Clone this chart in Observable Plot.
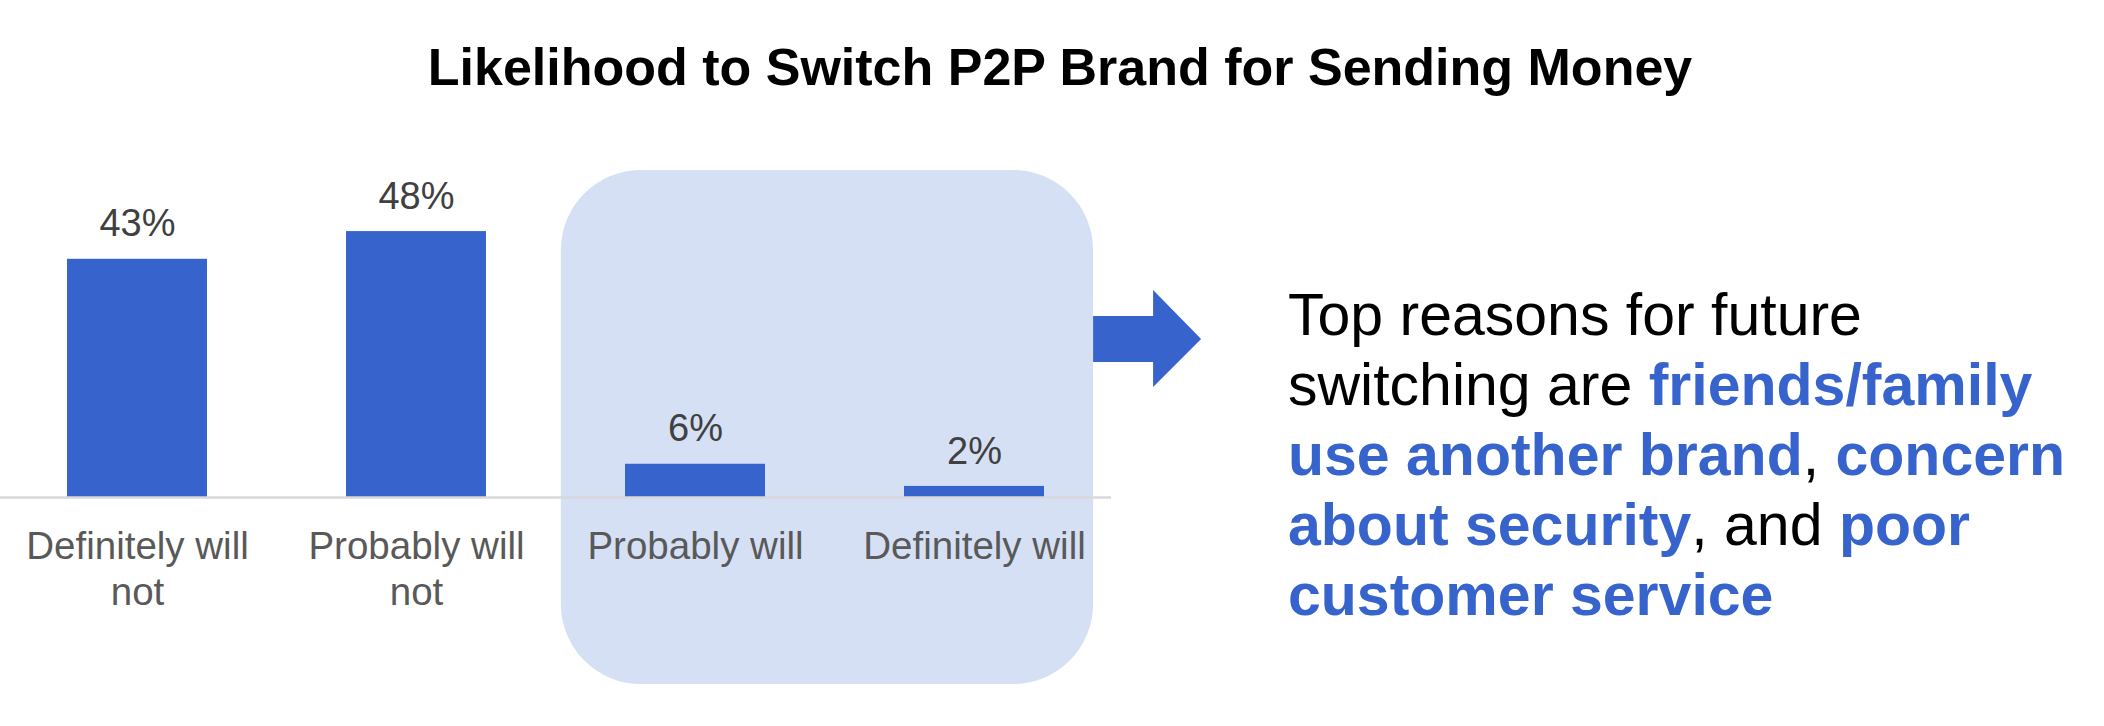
<!DOCTYPE html>
<html>
<head>
<meta charset="utf-8">
<script src="https://cdn.jsdelivr.net/npm/d3@7"></script>
<script src="https://cdn.jsdelivr.net/npm/@observablehq/plot@0.6"></script>
<style>
  html, body { margin: 0; padding: 0; background: #fff; }
  #root { position: relative; width: 2104px; height: 726px; overflow: hidden; font-family: Arial, "Liberation Sans", sans-serif; }
  #title { position: absolute; left: 16px; top: 41px; width: 2088px; text-align: center; font-weight: bold; font-size: 52px; line-height: 52px; color: #000; white-space: nowrap; }
  #chart { position: absolute; left: 0; top: 120px; }
  #note { position: absolute; left: 1288px; top: 280px; font-size: 59px; line-height: 70px; color: #000; white-space: nowrap; }
  #note b { color: #3763cc; }
</style>
</head>
<body>
<div id="root">
  <div id="title">Likelihood to Switch P2P Brand for Sending Money</div>
  <div id="chart"></div>
  <div id="note">Top reasons for future<br>switching are <b>friends/family</b><br><b>use another brand</b>, <b>concern</b><br><b>about security</b>, and <b>poor</b><br><b>customer service</b></div>
</div>
<script>
const categories = ["Definitely will not", "Probably will not", "Probably will", "Definitely will"];
const tickLabels = ["Definitely will\nnot", "Probably will\nnot", "Probably will", "Definitely will"];
const values = [43, 48, 6, 2];
const highlighted = ["Probably will", "Definitely will"];

const data = categories.map((c, i) => ({category: c, value: values[i], label: values[i] + "%"}));

const BAR = "#3763cc";
const BOX = "#d6e0f5";

function highlightBox(index, scales, vals, dims) {
  const x = scales.x;
  const bw = typeof x.bandwidth === "function" ? x.bandwidth() : 0;
  const step = typeof x.step === "function" ? x.step() : bw * 2;
  const left = x(highlighted[0]) - 0.23 * step;
  const right = x(highlighted[1]) + bw + 0.176 * step;
  const ns = "http://www.w3.org/2000/svg";
  const g = document.createElementNS(ns, "g");
  const r = document.createElementNS(ns, "rect");
  r.setAttribute("x", left);
  r.setAttribute("y", 50);
  r.setAttribute("width", right - left);
  r.setAttribute("height", 514);
  r.setAttribute("rx", 80);
  r.setAttribute("ry", 80);
  r.setAttribute("fill", BOX);
  g.appendChild(r);
  const a = document.createElementNS(ns, "polygon");
  const x0 = right, x1 = right + 60, x2 = right + 108;
  a.setAttribute("points", [
    [x0, 196], [x1, 196], [x1, 170], [x2, 219], [x1, 267], [x1, 242], [x0, 242]
  ].map(p => p.join(",")).join(" "));
  a.setAttribute("fill", BAR);
  g.appendChild(a);
  return g;
}

const chart = Plot.plot({
  width: 2104,
  height: 606,
  marginLeft: 0,
  marginRight: 993,
  marginTop: 100,
  marginBottom: 229,
  style: {fontFamily: "Arial, 'Liberation Sans', sans-serif", background: "transparent"},
  x: {domain: categories, paddingInner: 0.5, paddingOuter: 0.237, label: null},
  y: {domain: [0, 50], axis: null},
  marks: [
    highlightBox,
    Plot.barY(data, {x: "category", y: "value", fill: BAR}),
    Plot.ruleY([0], {stroke: "#d9d9d9", strokeWidth: 2.5}),
    Plot.text(data, {x: "category", y: "value", text: "label", dy: -35, fontSize: 38, fill: "#404040"}),
    Plot.axisX({
      tickSize: 0,
      tickPadding: 30,
      fontSize: 38.5,
      lineHeight: 1.17,
      fill: "#595959",
      tickFormat: (d) => tickLabels[categories.indexOf(d)],
      label: null
    })
  ]
});
document.getElementById("chart").appendChild(chart);
</script>
</body>
</html>
